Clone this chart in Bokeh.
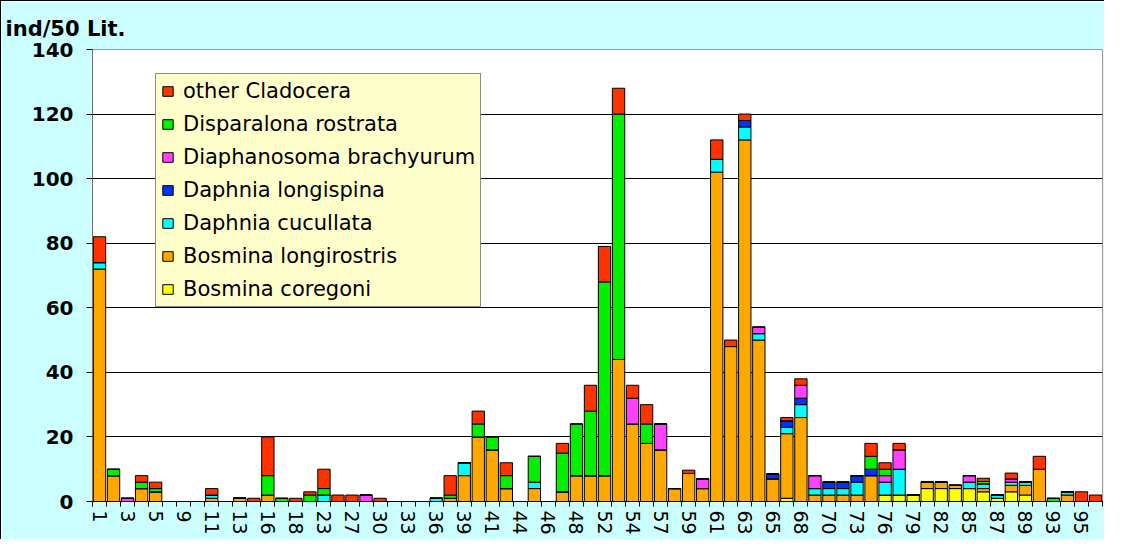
from bokeh.plotting import figure
from bokeh.models import Range1d, FixedTicker, Legend, LegendItem, ColumnDataSource
from bokeh.embed import file_html
from bokeh.resources import INLINE

sites = ["1", "2", "3", "4", "5", "7", "9", "10", "11", "12", "13", "15",
         "16", "17", "18", "20", "23", "25", "27", "28", "30", "31", "33", "34",
         "36", "37", "39", "40", "41", "42", "44", "45", "46", "47", "48", "50",
         "52", "53", "54", "55", "57", "58", "59", "60", "61", "62", "63", "64",
         "65", "67", "68", "69", "70", "72", "73", "75", "76", "77", "79", "80",
         "82", "83", "85", "86", "87", "88", "89", "91", "93", "94", "95", "96"]

bosmina_coregoni = [0, 0, 0, 0, 0, 0, 0, 0, 0, 0, 0, 0,
                    0, 0, 0, 0, 0, 0, 0, 0, 0, 0, 0, 0,
                    0, 0, 0, 0, 0, 0, 0, 0, 0, 0, 0, 0,
                    0, 0, 0, 0, 0, 0, 0, 0, 0, 0, 0, 0,
                    0, 1, 0, 0, 0, 0, 0, 0, 2, 2, 2, 4,
                    4, 4, 4, 3, 1, 3, 2, 0, 0, 0, 0, 0]
bosmina_longirostris = [72, 8, 0, 4, 3, 0, 0, 0, 1, 0, 1, 0,
                        2, 0, 0, 0, 0, 0, 0, 0, 0, 0, 0, 0,
                        0, 1, 8, 20, 16, 4, 0, 4, 0, 3, 8, 8,
                        8, 44, 24, 18, 16, 4, 8.7, 4, 102, 48, 112, 50,
                        7, 20, 26, 2, 2, 2, 2, 8, 0, 0, 0, 2,
                        2, 1, 0, 1, 0, 2, 3, 10, 0, 2, 0, 0]
daphnia_cucullata = [2, 0, 0, 0, 0, 0, 0, 0, 1, 0, 0, 0,
                     0, 0, 0, 0, 2, 0, 0, 0, 0, 0, 0, 0,
                     1, 0, 4, 0, 0, 0, 0, 2, 0, 0, 0, 0,
                     0, 0, 0, 0, 0, 0, 0, 0, 4, 0, 4, 2,
                     0, 2, 4, 2, 2, 2, 4, 0, 4, 8, 0, 0,
                     0, 0, 2, 1.5, 1, 1, 1, 0, 0, 1, 0, 0]
daphnia_longispina = [0, 0, 0, 0, 0, 0, 0, 0, 0, 0, 0, 0,
                      0, 0, 0, 0, 0, 0, 0, 0, 0, 0, 0, 0,
                      0, 0, 0, 0, 0, 0, 0, 0, 0, 0, 0, 0,
                      0, 0, 0, 0, 0, 0, 0, 0, 0, 0, 2, 0,
                      1.5, 2, 2, 0, 2, 2, 2, 2, 0, 0, 0, 0,
                      0, 0, 0, 0, 0, 0, 0, 0, 0, 0, 0, 0]
diaphanosoma = [0, 0, 1, 0, 0, 0, 0, 0, 0, 0, 0, 0,
                0, 0, 0, 0, 0, 0, 0, 2, 0, 0, 0, 0,
                0, 0, 0, 0, 0, 0, 0, 0, 0, 0, 0, 0,
                0, 0, 8, 0, 8, 0, 0, 3, 0, 0, 0, 2,
                0, 0, 4, 4, 0, 0, 0, 0, 2, 6, 0, 0,
                0, 0, 2, 0, 0, 1, 0, 0, 0, 0, 0, 0]
disparalona = [0, 2, 0, 2, 1, 0, 0, 0, 0, 0, 0, 0,
               6, 1, 0, 2, 2, 0, 0, 0, 0, 0, 0, 0,
               0, 1, 0, 4, 4, 4, 0, 8, 0, 12, 16, 20,
               60, 76, 0, 6, 0, 0, 0, 0, 0, 0, 0, 0,
               0, 0, 0, 0, 0, 0, 0, 4, 2, 0, 0, 0,
               0, 0, 0, 0.7, 0, 0, 0, 0, 1, 0, 0, 0]
other_cladocera = [8, 0, 0, 2, 2, 0, 0, 0, 2, 0, 0, 1,
                   12, 0, 1, 1, 6, 2, 2, 0, 1, 0, 0, 0,
                   0, 6, 0, 4, 0, 4, 0, 0, 0, 3, 0, 8,
                   11, 8, 4, 6, 0, 0, 1, 0, 6, 2, 2, 0,
                   0, 1, 2, 0, 0, 0, 0, 4, 2, 2, 0, 0,
                   0, 0, 0, 1, 0, 1.8, 0, 4, 0, 0, 3, 2]

series_labels = ["Bosmina coregoni", "Bosmina longirostris", "Daphnia cucullata",
                 "Daphnia longispina", "Diaphanosoma brachyurum",
                 "Disparalona rostrata", "other Cladocera"]
series_keys = ["bc", "bl", "dc", "dl", "db", "dr", "oc"]
series_colors = ["#FFFF00", "#FFA800", "#00FFFF", "#0033FF", "#FF40FF", "#00F000", "#FF3300"]
y_ticks = [0, 20, 40, 60, 80, 100, 120, 140]

source = ColumnDataSource(dict(
    x=list(range(len(sites))),
    bc=bosmina_coregoni, bl=bosmina_longirostris, dc=daphnia_cucullata,
    dl=daphnia_longispina, db=diaphanosoma, dr=disparalona, oc=other_cladocera))

p = figure(width=1104, height=539, output_backend="svg", toolbar_location=None,
           x_range=Range1d(-0.5, len(sites) - 0.5), y_range=Range1d(0, 140),
           min_border_left=91, min_border_right=3, min_border_top=48, min_border_bottom=39,
           styles={"border-left": "1px solid #000000", "border-top": "1px solid #000000"})

p.border_fill_color = "#CCFFFF"
p.background_fill_color = "#FFFFFF"
p.outline_line_color = "#9A9A9A"
p.outline_line_width = 1

renderers = p.vbar_stack(series_keys, x="x", width=0.88, source=source,
                         color=series_colors, line_color="#000000", line_width=1)
for r in renderers:
    r.glyph.line_color = "#000000"

# grid
p.xgrid.visible = False
p.ygrid.ticker = FixedTicker(ticks=y_ticks[1:-1])
p.ygrid.grid_line_color = "#000000"
p.ygrid.grid_line_width = 1

# y axis
p.yaxis.ticker = FixedTicker(ticks=y_ticks)
p.yaxis.major_label_text_font = "DejaVu Sans"
p.yaxis.major_label_text_font_size = "20px"
p.yaxis.major_label_text_font_style = "bold"
p.yaxis.major_label_text_color = "#000000"
p.yaxis.major_tick_out = 6
p.yaxis.major_tick_in = 0
p.yaxis.minor_tick_out = 0
p.yaxis.minor_tick_in = 0
p.yaxis.major_label_standoff = 13
p.yaxis.axis_line_color = "#707070"
p.yaxis.major_tick_line_color = "#000000"

# x axis
even = list(range(0, len(sites), 2))
p.xaxis.ticker = FixedTicker(ticks=even, minor_ticks=[i - 0.5 for i in range(len(sites) + 1)])
p.xaxis.major_label_overrides = {i: sites[i] for i in even}
p.xaxis.major_label_orientation = "vertical"
p.xaxis.major_label_text_font = "DejaVu Sans"
p.xaxis.major_label_text_font_size = "19px"
p.xaxis.major_label_text_color = "#000000"
p.xaxis.major_tick_out = 0
p.xaxis.major_tick_in = 0
p.xaxis.minor_tick_out = 5
p.xaxis.minor_tick_in = 0
p.xaxis.minor_tick_line_color = "#000000"
p.xaxis.major_label_standoff = 4
p.xaxis.axis_line_color = "#000000"

# title as axis unit label
p.title.text = "ind/50 Lit."
p.title.align = "left"
p.title.offset = -87
p.title.text_font = "DejaVu Sans"
p.title.text_font_size = "21px"
p.title.text_font_style = "bold"
p.title.text_color = "#000000"
p.title.standoff = 17

items = [LegendItem(label=lab, renderers=[r]) for lab, r in zip(series_labels, renderers)]
items.reverse()
legend = Legend(items=items, location=(63, 194))
legend.background_fill_color = "#FFFFCC"
legend.background_fill_alpha = 1
legend.border_line_color = "#202020"
legend.border_line_width = 1
legend.label_text_font = "DejaVu Sans"
legend.label_text_font_size = "21px"
legend.label_text_color = "#000000"
legend.glyph_width = 13
legend.glyph_height = 12
legend.label_standoff = 9
legend.label_height = 20
legend.spacing = 9
legend.padding = 5
legend.margin = 0
p.add_layout(legend)

open("out.html", "w").write(file_html(p, INLINE))
